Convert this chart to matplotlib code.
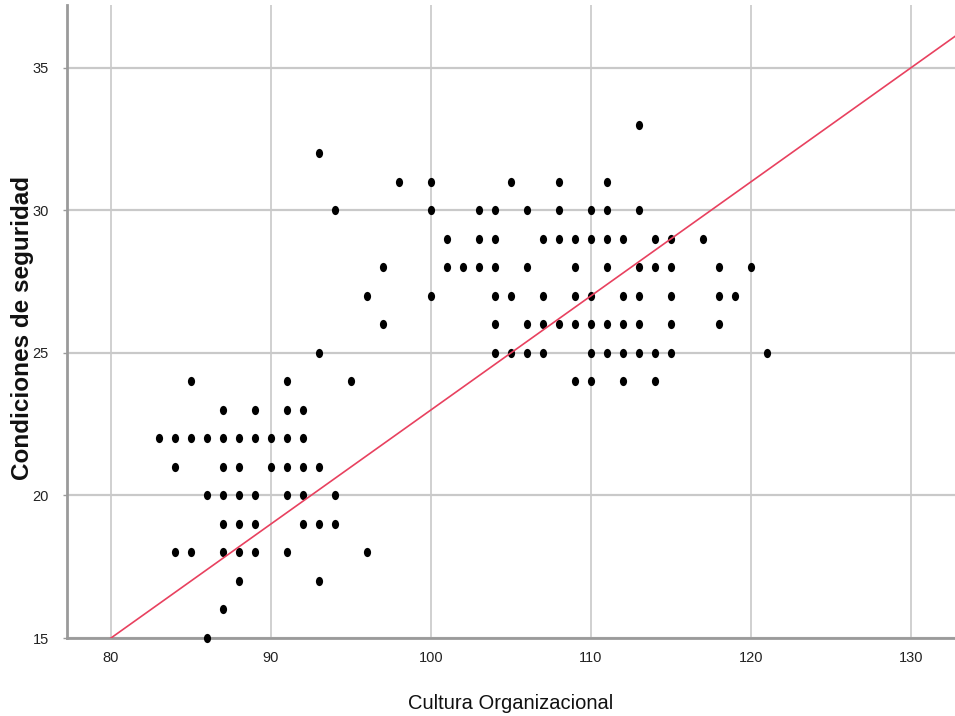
import numpy as np
import matplotlib
matplotlib.use("Agg")
import matplotlib.pyplot as plt
from matplotlib.path import Path
from matplotlib.transforms import Affine2D

# puntos, agrupados por fila (valor de y)
cultura = [
    113,
    93,
    98, 100, 105, 108, 111,
    94, 100, 103, 104, 106, 108, 110, 111, 113,
    101, 103, 104, 107, 108, 109, 110, 111, 112, 114, 115, 117,
    97, 101, 102, 103, 104, 106, 109, 111, 113, 114, 115, 118, 120,
    96, 100, 104, 105, 107, 109, 110, 112, 113, 115, 118, 119,
    97, 104, 106, 107, 108, 109, 110, 111, 112, 113, 115, 118,
    93, 104, 105, 106, 107, 110, 111, 112, 113, 114, 115, 121,
    85, 91, 95, 109, 110, 112, 114,
    87, 89, 91, 92,
    83, 84, 85, 86, 87, 88, 89, 90, 91, 92,
    84, 87, 88, 90, 91, 92, 93,
    86, 87, 88, 89, 91, 92, 94,
    87, 88, 89, 92, 93, 94,
    84, 85, 87, 88, 89, 91, 96,
    88, 93,
    87,
    86,
]
seguridad = (
    [33] * 1 + [32] * 1 + [31] * 5 + [30] * 9 + [29] * 12 + [28] * 13
    + [27] * 12 + [26] * 12 + [25] * 12 + [24] * 7 + [23] * 4 + [22] * 10
    + [21] * 7 + [20] * 7 + [19] * 6 + [18] * 7 + [17] * 2 + [16] * 1 + [15] * 1
)

# recta de ajuste
pendiente = 0.4
intercepto = -17.0

x_ticks = [80, 90, 100, 110, 120, 130]
y_ticks = [15, 20, 25, 30, 35]

fuente = ['Liberation Sans', 'DejaVu Sans']

fig = plt.figure(figsize=(9.55, 7.16), dpi=100)
ax = fig.add_axes([67 / 955, 78 / 716, 888 / 955, 633 / 716])

ax.set_xlim(77.25, 132.75)
ax.set_ylim(15, 37.2)

ax.set_xticks(x_ticks)
ax.set_yticks(y_ticks)
ax.grid(axis='y', color='#c9c9c9', lw=1.6, zorder=0)
ax.grid(axis='x', color='#c4c4c4', lw=1.1, zorder=0)

# marcador eliptico como en SPSS
elipse = Path.unit_circle().transformed(Affine2D().scale(0.78, 1.0))
ax.scatter(cultura, seguridad, marker=elipse, s=44, color='black',
           linewidths=0, zorder=3, clip_on=False)

xl = np.array(ax.get_xlim())
ax.plot(xl, intercepto + pendiente * xl, color='#e8415f', lw=1.2, zorder=4)

for s in ['top', 'right']:
    ax.spines[s].set_visible(False)
for s in ['left', 'bottom']:
    ax.spines[s].set_color('#9a9a9a')
    ax.spines[s].set_linewidth(2)
    ax.spines[s].set_zorder(2)

ax.tick_params(axis='both', length=0, labelsize=10.5, colors='#9a9a9a',
               labelcolor='#222222')
ax.tick_params(axis='y', length=3, width=1, pad=10)
ax.tick_params(axis='x', pad=9)
for lab in ax.get_xticklabels() + ax.get_yticklabels():
    lab.set_family(fuente)

ax.set_xlabel('Cultura Organizacional', fontsize=14.5, family=fuente,
              labelpad=21, color='#111111')
ax.set_ylabel('Condiciones de seguridad', fontsize=17.5, fontweight='bold',
              family=fuente, color='#111111')
ax.yaxis.set_label_coords(-0.037, 0.49)

fig.savefig('out.png', dpi=100)
